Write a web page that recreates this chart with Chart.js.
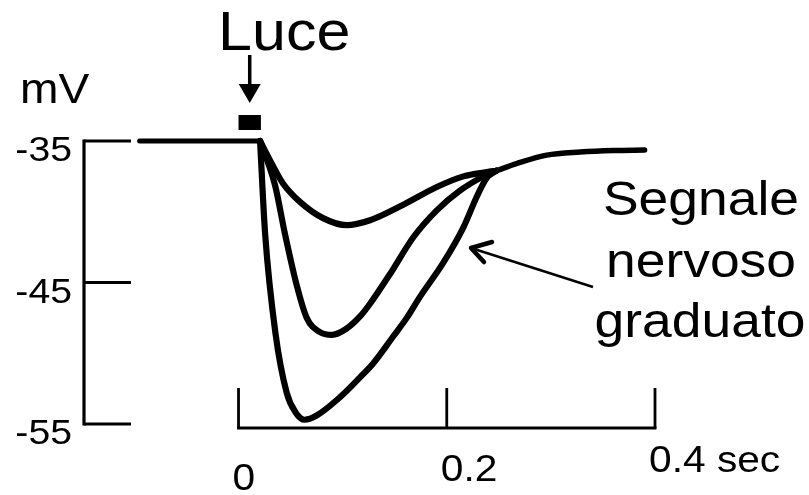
<!DOCTYPE html>
<html>
<head>
<meta charset="utf-8">
<script src="https://cdn.jsdelivr.net/npm/chart.js@4.4.1/dist/chart.umd.min.js"></script>
<style>
  body { margin: 0; background: #fff; }
  canvas { display: block; }
</style>
</head>
<body>
<canvas id="myChart" width="809" height="495"></canvas>
<script>
// valori (tempo in sec, potenziale in mV)
const baseT = [-0.095, 0.0207];
const baseMv = [-35, -35];

const smallT = [0.0207, 0.0334, 0.0427, 0.059, 0.0812, 0.104, 0.1263, 0.1583, 0.1904, 0.216, 0.2384, 0.2475];
const smallMv = [-35, -36.8, -38.0, -39.3, -40.45, -40.95, -40.6, -39.5, -38.25, -37.5, -37.2, -37.1];

const mediumT = [0.0207, 0.035, 0.0447, 0.0559, 0.0655, 0.078, 0.09, 0.103, 0.1167, 0.1263, 0.1455, 0.1679, 0.1904, 0.2128, 0.2352, 0.2475];
const mediumMv = [-35, -38.1, -41.6, -45.2, -47.5, -48.5, -48.7, -48.3, -47.4, -46.5, -44.4, -41.8, -39.9, -38.5, -37.5, -37.1];

const largeT = [0.0207, 0.0255, 0.0355, 0.0463, 0.055, 0.0635, 0.075, 0.0975, 0.1167, 0.1295, 0.1487, 0.1616, 0.1744, 0.1967, 0.216, 0.2288, 0.2384, 0.2475];
const largeMv = [-35, -41.5, -48.6, -52.8, -54.2, -54.7, -54.4, -53.1, -51.7, -50.7, -48.8, -47.5, -46.0, -43.6, -41.1, -38.94, -37.6, -37.1];

const tailT = [0.2475, 0.267, 0.296, 0.328, 0.36, 0.39];
const tailMv = [-37.1, -36.6, -36.0, -35.78, -35.67, -35.64];

const stimulusT = [0, 0.0215];

const yTicks = [-35, -45, -55];
const yTickLabels = ['-35', '-45', '-55'];
const xTicks = [0, 0.2, 0.4];
const xTickLabels = ['0', '0.2', '0.4 sec'];

const FONT = '"Liberation Sans", Arial, sans-serif';

function toPoints(ts, vs) {
    return ts.map((t, i) => ({ x: t, y: vs[i] }));
}

function trace(ts, vs, width) {
    return {
        data: toPoints(ts, vs),
        borderColor: '#000',
        borderWidth: width,
        pointRadius: 0,
        cubicInterpolationMode: 'monotone',
        borderCapStyle: 'round',
        borderJoinStyle: 'round',
        fill: false,
        clip: false
    };
}

// testo leggermente allargato, come nella figura
function wideText(ctx, text, x, y, size, align, sx) {
    ctx.save();
    ctx.font = size + 'px ' + FONT;
    ctx.textAlign = align;
    ctx.textBaseline = 'alphabetic';
    ctx.fillStyle = '#000';
    ctx.translate(x, y);
    ctx.scale(sx, 1);
    ctx.fillText(text, 0, 0);
    ctx.restore();
}

const figura = {
    id: 'figura',
    afterDraw(chart) {
        const ctx = chart.ctx;
        const xs = chart.scales.x;
        const ys = chart.scales.y;
        const axisX = 84;
        const axisY = ys.getPixelForValue(-55) + 4;

        ctx.save();
        ctx.strokeStyle = '#000';
        ctx.lineCap = 'butt';

        // asse verticale (mV)
        ctx.lineWidth = 3.2;
        ctx.beginPath();
        ctx.moveTo(axisX, ys.getPixelForValue(yTicks[0]) - 1.5);
        ctx.lineTo(axisX, ys.getPixelForValue(yTicks[yTicks.length - 1]) + 1.5);
        ctx.stroke();
        ctx.lineWidth = 2.8;
        yTicks.forEach((v, i) => {
            const py = ys.getPixelForValue(v);
            ctx.beginPath();
            ctx.moveTo(axisX, py);
            ctx.lineTo(131, py);
            ctx.stroke();
            wideText(ctx, yTickLabels[i], 72, py + 20, 35, 'right', 1.12);
        });

        // asse orizzontale (sec)
        ctx.lineWidth = 3.2;
        ctx.beginPath();
        ctx.moveTo(xs.getPixelForValue(xTicks[0]) - 1.5, axisY);
        ctx.lineTo(xs.getPixelForValue(xTicks[xTicks.length - 1]) + 1.5, axisY);
        ctx.stroke();
        ctx.lineWidth = 2.8;
        xTicks.forEach((t, i) => {
            const px = xs.getPixelForValue(t);
            ctx.beginPath();
            ctx.moveTo(px, axisY);
            ctx.lineTo(px, axisY - 40);
            ctx.stroke();
            wideText(ctx, xTickLabels[i], px - 6, 490 - (px - 239) * 0.0435, 37, 'left', 1.1);
        });

        wideText(ctx, 'mV', 20, 103, 42, 'left', 1.1);

        // stimolo luminoso
        const sx0 = xs.getPixelForValue(stimulusT[0]);
        const sx1 = xs.getPixelForValue(stimulusT[1]);
        ctx.fillStyle = '#000';
        ctx.fillRect(sx0, 115, sx1 - sx0, 15);

        // freccia "Luce"
        const ax = (sx0 + sx1) / 2;
        ctx.lineWidth = 3.5;
        ctx.beginPath();
        ctx.moveTo(ax, 55);
        ctx.lineTo(ax, 88);
        ctx.stroke();
        ctx.beginPath();
        ctx.moveTo(ax - 11, 84);
        ctx.lineTo(ax + 11, 84);
        ctx.lineTo(ax, 103);
        ctx.closePath();
        ctx.fill();
        wideText(ctx, 'Luce', 218, 50, 56, 'left', 1.09);

        // freccia verso le curve
        ctx.lineWidth = 2.5;
        ctx.beginPath();
        ctx.moveTo(593, 287);
        ctx.lineTo(471, 248);
        ctx.stroke();
        ctx.lineWidth = 4.5;
        ctx.lineCap = 'round';
        ctx.lineJoin = 'round';
        ctx.beginPath();
        ctx.moveTo(492, 242);
        ctx.lineTo(471, 248);
        ctx.lineTo(484, 262);
        ctx.stroke();

        wideText(ctx, 'Segnale', 701, 215, 49, 'center', 1.09);
        wideText(ctx, 'nervoso', 701, 277, 49, 'center', 1.09);
        wideText(ctx, 'graduato', 700, 337, 49, 'center', 1.09);

        ctx.restore();
    }
};

new Chart(document.getElementById('myChart'), {
    type: 'line',
    data: {
        datasets: [
            trace(baseT, baseMv, 5),
            trace(smallT, smallMv, 6.2),
            trace(mediumT, mediumMv, 6.2),
            trace(largeT, largeMv, 6.2),
            trace(tailT, tailMv, 5.5)
        ]
    },
    options: {
        responsive: false,
        animation: false,
        devicePixelRatio: 1,
        layout: {
            padding: { left: 134.4, right: 154, top: 126.85, bottom: 56.85 }
        },
        scales: {
            x: { type: 'linear', min: -0.1, max: 0.4, display: false },
            y: { min: -56, max: -34, display: false }
        },
        plugins: {
            legend: { display: false },
            tooltip: { enabled: false }
        }
    },
    plugins: [figura]
});
</script>
</body>
</html>
